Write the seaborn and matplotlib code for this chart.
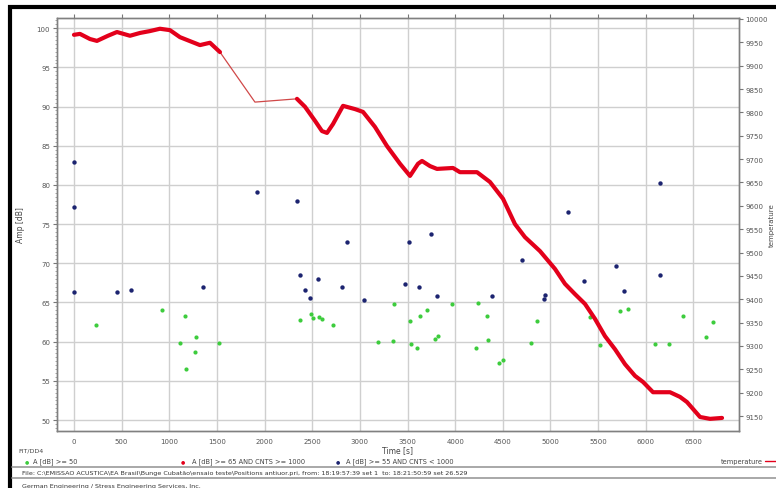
import numpy as np
import pandas as pd
import seaborn as sns
import matplotlib.pyplot as plt
from matplotlib.ticker import MultipleLocator

# temperature curve (right axis)
temp_time = [0, 63, 168, 241, 357, 451, 588, 693, 797, 902, 1007, 1112, 1186, 1322, 1427, 1532,
             1899, 2340, 2424, 2529, 2602, 2655, 2718, 2823, 2949, 3033, 3158, 3284, 3421, 3526,
             3610, 3652, 3736, 3809, 3977, 4050, 4229, 4365, 4502, 4627, 4732, 4890, 5047, 5152,
             5257, 5362, 5467, 5572, 5677, 5782, 5887, 5971, 6076, 6254, 6359, 6432, 6569, 6674, 6800]
temp_val = [9966, 9968, 9957, 9953, 9964, 9972, 9964, 9970, 9974, 9979, 9976, 9961, 9955, 9944, 9949, 9929,
            9822, 9829, 9812, 9782, 9760, 9756, 9775, 9814, 9807, 9801, 9769, 9728, 9690, 9664,
            9690, 9696, 9685, 9679, 9681, 9672, 9672, 9651, 9615, 9561, 9533, 9503, 9465, 9433,
            9411, 9390, 9358, 9321, 9293, 9261, 9236, 9223, 9201, 9201, 9191, 9180, 9148, 9144, 9146]
# hits A >= 65 AND CNTS >= 1000 run along the curve, except during the gap
hit_gap = (1600, 2300)

# A [dB] >= 55 AND CNTS < 1000
blue_time = [0, 0, 0, 451, 598, 1354, 1920, 2340, 2371, 2424, 2476, 2560, 2812, 2865, 3043, 3473,
             3515, 3620, 3746, 3809, 4386, 4701, 4932, 4942, 5184, 5352, 5687, 5771, 6149, 6149]
blue_amp = [82.9, 77.2, 66.3, 66.3, 66.6, 67.0, 79.1, 77.9, 68.5, 66.6, 65.6, 68.0, 67.0, 72.7, 65.3, 67.3,
            72.7, 67.0, 73.7, 65.8, 65.8, 70.4, 65.4, 65.9, 76.5, 67.7, 69.6, 66.5, 68.5, 80.2]

# A [dB] >= 50
green_time = [231, 923, 1165, 1280, 1112, 1270, 1175, 1522, 2371, 2487, 2508, 2571, 2602, 2718, 3190,
              3358, 3347, 3526, 3536, 3599, 3631, 3704, 3788, 3820, 3966, 4218, 4239, 4334, 4344,
              4460, 4502, 4858, 4795, 5414, 5519, 5729, 5813, 6097, 6243, 6390, 6632, 6705]
green_amp = [62.1, 64.0, 63.3, 60.6, 59.8, 58.7, 56.5, 59.8, 62.8, 63.5, 63.0, 63.1, 62.9, 62.1, 59.9,
             64.8, 60.1, 62.6, 59.7, 59.2, 63.3, 64.0, 60.3, 60.7, 64.8, 59.2, 64.9, 63.3, 60.2,
             57.3, 57.7, 62.6, 59.8, 63.1, 59.6, 63.9, 64.2, 59.7, 59.7, 63.3, 60.6, 62.5]

x_ticks = list(range(0, 7000, 500))
amp_ticks = list(range(50, 105, 5))
temp_ticks = list(range(9150, 10050, 50))

temp_df = pd.DataFrame({"time": temp_time, "temp": temp_val})
temp_df["seg"] = np.where(temp_df["time"] < hit_gap[0], 0, np.where(temp_df["time"] > hit_gap[1], 1, -1))
hits_df = temp_df[temp_df["seg"] >= 0]

sns.set_style("white")
plt.rcParams['font.family'] = ['DejaVu Sans']

fig = plt.figure(figsize=(7.76, 4.89), dpi=100)
ax = fig.add_axes([57/776, 1 - 432/489, (739 - 57)/776, (432 - 19)/489])
ax2 = ax.twinx()

ax.grid(True, color='#cfcfcf', lw=1)
ax.set_axisbelow(True)

sns.scatterplot(x=green_time, y=green_amp, ax=ax, color='#3dcc3d', s=9, linewidth=0, zorder=3)
sns.scatterplot(x=blue_time, y=blue_amp, ax=ax, color='#1c2470', s=10, linewidth=0, zorder=3)

sns.lineplot(data=temp_df, x="time", y="temp", ax=ax2, color='#d04848', lw=0.9,
             estimator=None, sort=False)
sns.lineplot(data=hits_df, x="time", y="temp", units="seg", ax=ax2, color='#e3001b', lw=3.0,
             estimator=None, sort=False)

ax.set_xlim(-178, 6978)
ax.set_ylim(48.6, 101.3)
ax2.set_ylim(9118, 10002)
ax.set_xticks(x_ticks)
ax.set_yticks(amp_ticks)
ax2.set_yticks(temp_ticks)
ax.yaxis.set_minor_locator(MultipleLocator(0.5))

tick_kw = dict(labelsize=5, labelcolor='#555555', color='#777777', direction='out')
ax.tick_params(axis='x', top=True, length=3, width=0.8, pad=2, **tick_kw)
ax.tick_params(axis='y', which='major', length=3, width=0.8, pad=2, **tick_kw)
ax.tick_params(axis='y', which='minor', left=True, length=1.5, width=0.6, color='#999999')
ax2.tick_params(axis='y', length=3, width=0.8, pad=1.5, **tick_kw)

for a in (ax, ax2):
    for s in a.spines.values():
        s.set_color('#808080')
        s.set_linewidth(1)

ax.set_xlabel("Time [s]", fontsize=5.5, color='#444444', labelpad=1)
ax.set_ylabel("Amp [dB]", fontsize=5.5, color='#444444', labelpad=8)
ax2.set_ylabel("temperature", fontsize=5, color='#444444', labelpad=1)
ax2.set_xlabel("")

# outer frame and footer
fig.add_artist(plt.Rectangle((10/776, -0.1), 1.2, 1 - 8/489 + 0.1, fill=False, lw=3,
                             ec='black', transform=fig.transFigure))
for yy in (468, 479):
    fig.add_artist(plt.Line2D([12/776, 1], [1 - yy/489] * 2, color='#9a9a9a', lw=1.2,
                              transform=fig.transFigure))

def fy(py):
    return 1 - py/489

fig.text(18/776, fy(451), "FIT/DD4", fontsize=4.5, color='#444444', va='center')
fig.text(27/776, fy(462), "●", fontsize=3.5, color='#3dcc3d', va='center', ha='center')
fig.text(33/776, fy(462), "A [dB] >= 50", fontsize=4.8, color='#444444', va='center')
fig.text(183/776, fy(462), "●", fontsize=3.5, color='#e3001b', va='center', ha='center')
fig.text(192/776, fy(462), "A [dB] >= 65 AND CNTS >= 1000", fontsize=4.8, color='#444444', va='center')
fig.text(338/776, fy(462), "●", fontsize=3.5, color='#1c2470', va='center', ha='center')
fig.text(346/776, fy(462), "A [dB] >= 55 AND CNTS < 1000", fontsize=4.8, color='#444444', va='center')
fig.text(763/776, fy(462), "temperature", fontsize=4.8, color='#444444', va='center', ha='right')
fig.add_artist(plt.Line2D([765/776, 1], [fy(462)] * 2, color='#e3001b', lw=1,
                          transform=fig.transFigure))
fig.text(22/776, fy(473.5),
         "File: C:\\EMISSAO ACUSTICA\\EA Brasil\\Bunge Cubatão\\ensaio teste\\Positions antiuor.pri, "
         "from: 18:19:57:39 set 1  to: 18:21:50:59 set 26.529",
         fontsize=4.6, color='#333333', va='center')
fig.text(22/776, fy(487), "German Engineering / Stress Engineering Services, Inc.",
         fontsize=4.6, color='#333333', va='center')

plt.savefig("out.png", dpi=100)
plt.close()
